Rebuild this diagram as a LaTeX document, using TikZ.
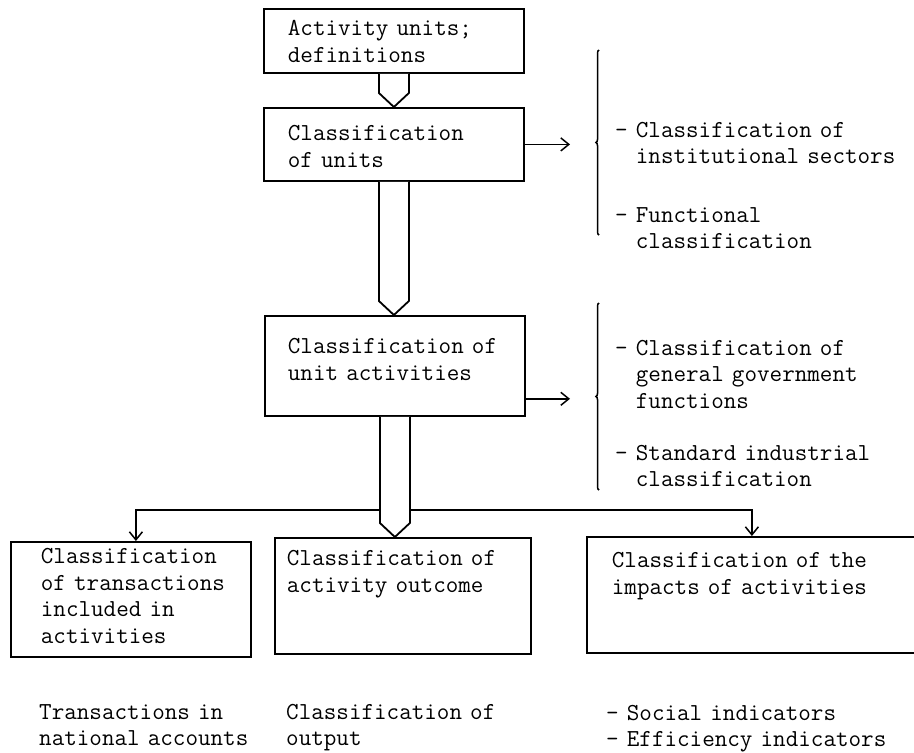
\documentclass[tikz,border=0pt]{standalone}
\usetikzlibrary{calc,arrows.meta,decorations.pathreplacing}
\newcommand{\typewr}{\fontsize{24.4pt}{26.5pt}\selectfont\ttfamily}
\newcommand{\hollowarrow}[2]{%
\draw [line width=1.8pt, fill=white] ($(#1.south)+(-15,0)$) -- ($(#1.south |- #2.north)+(-15,-14)$) -- (#1.south |- #2.north) -- ($(#1.south |- #2.north)+(15,-14)$) -- ($(#1.south)+(15,0)$);}
\tikzset{
  box/.style={draw, line width=1.8pt, anchor=north west, align=left, inner sep=0pt, font=\typewr, execute at begin node={\leftskip=#1}},
  item/.style={anchor=base west, align=left, inner sep=0pt, text width=296pt, font=\typewr},
  conn/.style={line width=1.5pt, -{Straight Barb[length=8pt,width=13pt]}},
  brk/.style={line width=1.5pt, decorate, decoration={brace, amplitude=3pt}}
}
\begin{document}
\begin{tikzpicture}[x=1pt,y=-1pt]
\useasboundingbox (0,0) rectangle (914,753);
\node [box=24pt, text width=260pt, text height=27pt, text depth=37pt] (defs) at (263,8) {Activity units;\\definitions};
\node [box=24pt, text width=260pt, text height=33pt, text depth=40pt] (units) at (263,107) {Classification\\of units};
\node [box=23pt, text width=260pt, text height=38pt, text depth=62pt] (acts) at (264,315) {Classification of\\unit activities};
\node [box=30pt, text width=240pt, text height=22pt, text depth=93pt] (trans) at (10,541) {Classification\\of transactions\\included in\\activities};
\node [box=12pt, text width=256pt, text height=28pt, text depth=88pt] (outc) at (274,537) {Classification of\\activity outcome};
\node [box=25pt, text width=330pt, text height=31pt, text depth=85pt] (imp) at (586,536) {Classification of the\\impacts of activities};
\coordinate (b1top) at (599,50);
\coordinate (b1bot) at (599,235);
\coordinate (b2top) at (599,303);
\coordinate (b2bot) at (599,490);
\draw [brk] (b1bot) -- (b1top);
\draw [brk] (b2bot) -- (b2top);
\draw [conn] (units.east) -- ($(units.east -| b1top)+(-29,0)$);
\draw [conn] ($(acts.south east)+(0,-18)$) coordinate (aout) -- ($(aout -| b2top)+(-29,0)$);
\node [item] (sect) at (615,137) {- Classification of\\\phantom{- }institutional sectors};
\node [item] (func) at (615,222) {- Functional\\\phantom{- }classification};
\node [item] (gov) at (615,355) {- Classification of\\\phantom{- }general government\\\phantom{- }functions};
\node [item] (isic) at (615,460) {- Standard industrial\\\phantom{- }classification};
\coordinate (fork) at ($(acts.south)+(0,93)$);
\draw [conn] (fork) -| ([xshift=5pt]trans.north);
\draw [conn] (fork) -| (imp.north);
\hollowarrow{defs}{units}
\hollowarrow{units}{acts}
\hollowarrow{acts}{outc}
\node [item] (natacc) at (39,719) {Transactions in\\national accounts};
\node [item] (output) at (286,719) {Classification of\\output};
\node [item] (indic) at (606,720) {- Social indicators\\- Efficiency indicators};
\end{tikzpicture}
\end{document}
